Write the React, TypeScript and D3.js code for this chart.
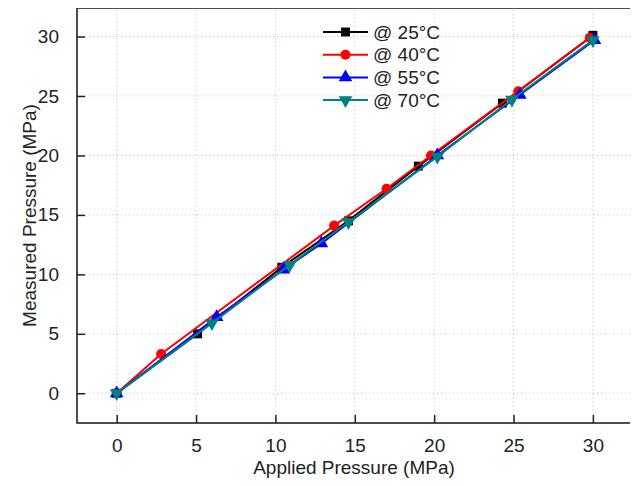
import React, { useEffect, useRef } from 'react';
import * as d3 from 'd3';

const seriesNames = ['@ 25°C', '@ 40°C', '@ 55°C', '@ 70°C'];
const seriesColors = ['#000000', '#ff0000', '#0000ff', '#008080'];
const seriesShapes = ['square', 'circle', 'triangle', 'triangleDown'];

const applied25 = [0, 5.1, 10.4, 14.6, 19.0, 24.3, 30.0];
const measured25 = [0, 5.0, 10.6, 14.5, 19.1, 24.4, 30.1];
const applied40 = [0, 2.8, 13.7, 17.0, 19.8, 25.3, 29.8];
const measured40 = [0, 3.3, 14.1, 17.2, 20.0, 25.4, 29.9];
const applied55 = [0, 6.3, 10.5, 12.9, 20.2, 25.4, 30.1];
const measured55 = [0, 6.4, 10.4, 12.6, 20.0, 25.1, 29.7];
const applied70 = [0, 6.0, 10.9, 14.6, 20.2, 24.9, 30.0];
const measured70 = [0, 5.9, 10.8, 14.4, 19.9, 24.7, 29.7];

const tickValues = [0, 5, 10, 15, 20, 25, 30];

const FONT = 'Arial, "Liberation Sans", sans-serif';

function App() {
  const ref = useRef<SVGSVGElement>(null);

  useEffect(() => {
    const width = 638,
      height = 486;
    const margin = { top: 8, right: 7, bottom: 63, left: 77 };

    const svg = d3.select(ref.current);
    svg.selectAll('*').remove();

    const x = d3
      .scaleLinear()
      .domain([-2.5, 32.4])
      .range([margin.left, width - margin.right]);
    const y = d3
      .scaleLinear()
      .domain([-2.5, 32.4])
      .range([height - margin.bottom, margin.top]);

    const data = [
      { name: seriesNames[0], xs: applied25, ys: measured25 },
      { name: seriesNames[1], xs: applied40, ys: measured40 },
      { name: seriesNames[2], xs: applied55, ys: measured55 },
      { name: seriesNames[3], xs: applied70, ys: measured70 },
    ];

    svg.append('rect').attr('width', width).attr('height', height).attr('fill', '#fff');

    // grid
    const grid = svg.append('g');
    grid
      .selectAll('.vg')
      .data(tickValues)
      .enter()
      .append('line')
      .attr('x1', (d) => x(d))
      .attr('x2', (d) => x(d))
      .attr('y1', y.range()[0])
      .attr('y2', y.range()[1])
      .attr('stroke', '#dcb4c4')
      .attr('stroke-width', 1)
      .attr('stroke-dasharray', '1,3');
    grid
      .selectAll('.hg')
      .data(tickValues)
      .enter()
      .append('line')
      .attr('y1', (d) => y(d))
      .attr('y2', (d) => y(d))
      .attr('x1', x.range()[0])
      .attr('x2', x.range()[1])
      .attr('stroke', '#dcb4c4')
      .attr('stroke-width', 1)
      .attr('stroke-dasharray', '1,3');

    // axes (ticks inward)
    const xAxis = d3.axisBottom(x).tickValues(tickValues).tickSizeInner(-8).tickSizeOuter(0).tickPadding(16);
    const yAxis = d3.axisLeft(y).tickValues(tickValues).tickSizeInner(-8).tickSizeOuter(0).tickPadding(18);

    const gx = svg
      .append('g')
      .attr('transform', 'translate(0,' + (height - margin.bottom) + ')')
      .call(xAxis);
    const gy = svg
      .append('g')
      .attr('transform', 'translate(' + margin.left + ',0)')
      .call(yAxis);
    [gx, gy].forEach((g) => {
      g.select('.domain').remove();
      g.selectAll('.tick line').attr('stroke', '#222').attr('stroke-width', 1.5);
      g.selectAll('.tick text').attr('font-family', FONT).attr('font-size', 19).attr('fill', '#222');
    });

    // frame
    svg
      .append('rect')
      .attr('x', x.range()[0])
      .attr('y', y.range()[1])
      .attr('width', x.range()[1] - x.range()[0])
      .attr('height', y.range()[0] - y.range()[1])
      .attr('fill', 'none')
      .attr('stroke', '#222')
      .attr('stroke-width', 1.6);

    const symbolFor = (shape: string, size: number) => {
      if (shape === 'square') return d3.symbol().type(d3.symbolSquare).size(size)();
      if (shape === 'circle') return d3.symbol().type(d3.symbolCircle).size(size)();
      if (shape === 'triangle') return d3.symbol().type(d3.symbolTriangle).size(size)();
      return d3.symbol().type(d3.symbolTriangle).size(size)();
    };

    const line = d3
      .line<[number, number]>()
      .x((d) => x(d[0]))
      .y((d) => y(d[1]));

    data.forEach((s, i) => {
      const pts: [number, number][] = s.xs.map((v, j) => [v, s.ys[j]]);
      svg
        .append('path')
        .attr('d', line(pts))
        .attr('fill', 'none')
        .attr('stroke', seriesColors[i])
        .attr('stroke-width', 2);
      svg
        .selectAll('.m' + i)
        .data(pts)
        .enter()
        .append('path')
        .attr('d', symbolFor(seriesShapes[i], 80))
        .attr('transform', (d) =>
          'translate(' + x(d[0]) + ',' + y(d[1]) + ')' + (seriesShapes[i] === 'triangleDown' ? ' rotate(180)' : '')
        )
        .attr('fill', seriesColors[i]);
    });

    // legend
    const legend = svg
      .selectAll('.legend')
      .data(seriesNames)
      .enter()
      .append('g')
      .attr('transform', (d, i) => 'translate(323,' + (32 + i * 22.7) + ')');
    legend
      .append('line')
      .attr('x1', 0)
      .attr('x2', 45)
      .attr('stroke', (d, i) => seriesColors[i])
      .attr('stroke-width', 2);
    legend
      .append('path')
      .attr('d', (d, i) => symbolFor(seriesShapes[i], 80))
      .attr('transform', (d, i) => 'translate(22.5,0)' + (seriesShapes[i] === 'triangleDown' ? ' rotate(180)' : ''))
      .attr('fill', (d, i) => seriesColors[i]);
    legend
      .append('text')
      .attr('x', 50)
      .attr('dy', '0.35em')
      .attr('font-family', FONT)
      .attr('font-size', 19)
      .attr('fill', '#222')
      .text((d) => d);

    // axis titles
    svg
      .append('text')
      .attr('x', (x.range()[0] + x.range()[1]) / 2)
      .attr('y', 474)
      .attr('text-anchor', 'middle')
      .attr('font-family', FONT)
      .attr('font-size', 19)
      .attr('fill', '#222')
      .text('Applied Pressure (MPa)');
    svg
      .append('text')
      .attr('transform', 'translate(36,' + (y.range()[0] + y.range()[1]) / 2 + ') rotate(-90)')
      .attr('text-anchor', 'middle')
      .attr('font-family', FONT)
      .attr('font-size', 19)
      .attr('fill', '#222')
      .text('Measured Pressure (MPa)');
  }, []);

  return (
    <div style={{ margin: -8 }}>
      <svg ref={ref} width={638} height={486} style={{ display: 'block' }} />
    </div>
  );
}

export default App;
